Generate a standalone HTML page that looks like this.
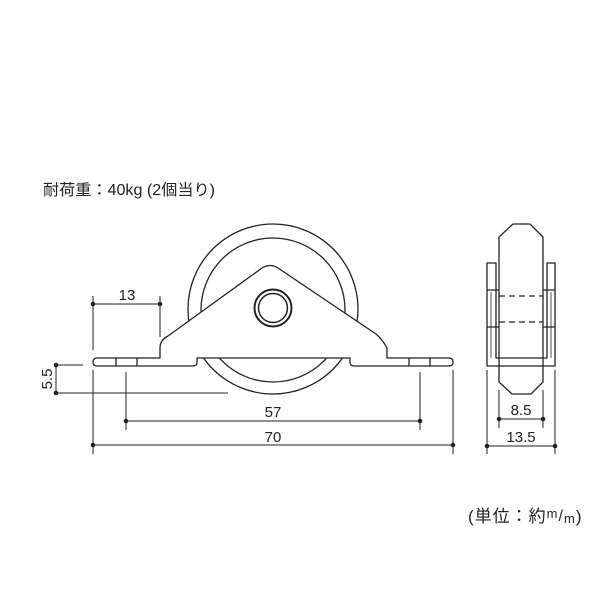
<!DOCTYPE html>
<html><head><meta charset="utf-8"><style>
html,body{margin:0;padding:0;background:#fff;width:600px;height:600px;overflow:hidden}
text{font-family:"Liberation Sans","Noto Sans CJK JP",sans-serif;fill:#222}
</style></head><body>
<svg width="600" height="600" viewBox="0 0 600 600" xmlns="http://www.w3.org/2000/svg">
<g fill="none" stroke="#222" stroke-width="1.3">
<circle cx="273" cy="309" r="85"/>
<circle cx="273" cy="310" r="72"/>
<path d="M97,358 H160 V348 Q160,340 168,336 L262,268 Q270,263 278,268 L376,334 Q383,340 387,348 V358 H449 Q453,358 453,362 Q453,366 449,366 H354 Q350,366 350,362 V358 H197 V362 Q197,366 193,366 H97 Q93,366 93,362 Q93,358 97,358 Z" fill="#fff"/>
<path d="M116,358V366M137,358V366M409,358V366M430,358V366"/>
<circle cx="273" cy="308" r="18.5" stroke-width="2"/>
<circle cx="273" cy="308" r="14.5" stroke-width="1.5"/>
<g stroke-width="1">
<path d="M93,296V350M160,296V337M93,304H160"/>
<path d="M56,365H83M56,393H228M56,365V393"/>
<path d="M126,372V430M420,372V430M126,421H420"/>
<path d="M93,370V454M453,370V454M93,445H453"/>
<path d="M499,390V428M543,390V428M499,419H543"/>
<path d="M487,370V454M555,370V454M487,446H555"/>
</g>
<path d="M513,224H530L543,237V382L531,394H512L499,382V237Z"/>
<path d="M487,263H496V358H547V263H555V366H487Z"/>
<path d="M487,290H499M487,327H499M543,290H555M543,327H555"/>
<path d="M499,358V366M543,358V366M491,292V358M551,292V358" stroke-width="0.8"/>
<path d="M499,296H543M499,322H543" stroke-dasharray="6,4"/>
</g>
<g fill="#222">
<circle cx="93" cy="304" r="2.3"/><circle cx="160" cy="304" r="2.3"/>
<circle cx="56" cy="365" r="2.3"/><circle cx="56" cy="393" r="2.3"/>
<circle cx="126" cy="421" r="2.3"/><circle cx="420" cy="421" r="2.3"/>
<circle cx="93" cy="445" r="2.3"/><circle cx="453" cy="445" r="2.3"/>
<circle cx="499" cy="419" r="2.3"/><circle cx="543" cy="419" r="2.3"/>
<circle cx="487" cy="446" r="2.3"/><circle cx="555" cy="446" r="2.3"/>
</g>
<text x="43" y="195" font-size="15.5" textLength="172" lengthAdjust="spacingAndGlyphs">耐荷重：40kg (2個当り)</text>
<text x="127" y="300" font-size="15" text-anchor="middle">13</text>
<text x="273" y="417" font-size="15" text-anchor="middle">57</text>
<text x="273" y="442" font-size="15" text-anchor="middle">70</text>
<text transform="translate(52,379) rotate(-90)" font-size="15" text-anchor="middle">5.5</text>
<text x="521" y="415" font-size="15" text-anchor="middle">8.5</text>
<text x="521" y="442" font-size="15" text-anchor="middle">13.5</text>
<text x="468" y="522" font-size="17" letter-spacing="1">(単位：約<tspan font-size="13" dy="-4">m</tspan><tspan font-size="16" dy="3">/</tspan><tspan font-size="13" dy="2">m</tspan><tspan font-size="17" dy="-1">)</tspan></text>
</svg>
</body></html>
